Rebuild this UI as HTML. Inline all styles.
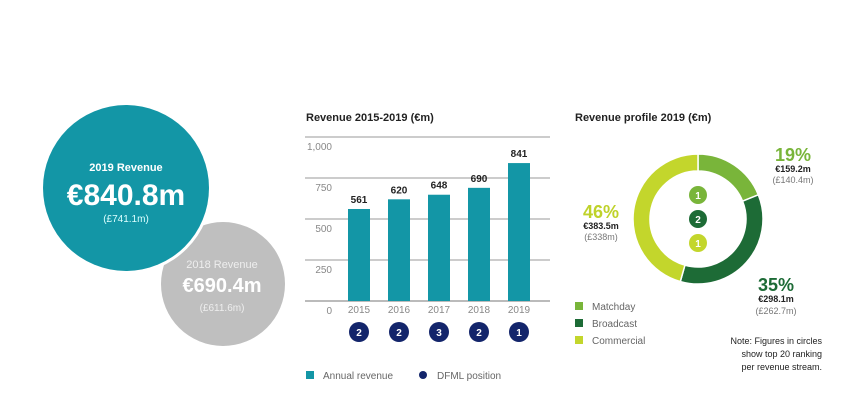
<!DOCTYPE html>
<html><head><meta charset="utf-8"><style>
body{margin:0;background:#fff;}
svg{display:block;font-family:"Liberation Sans",sans-serif;}
</style></head><body>
<svg id="c" width="867" height="412" viewBox="0 0 867 412">
<g>
<circle cx="223" cy="284" r="62" fill="#bfbfbf"/>
<circle cx="126" cy="188" r="86" fill="#fff"/>
<circle cx="126" cy="188" r="83" fill="#1396a6"/>
<text x="126" y="171" fill="#fff" font-size="11" font-weight="bold" text-anchor="middle">2019 Revenue</text>
<text x="126" y="205" fill="#fff" font-size="30" font-weight="bold" text-anchor="middle">€840.8m</text>
<text x="126" y="222" fill="#dff" font-size="10" text-anchor="middle">(£741.1m)</text>
<text x="222" y="268" fill="#eee" font-size="11" text-anchor="middle">2018 Revenue</text>
<text x="222" y="292" fill="#fff" font-size="20" font-weight="bold" text-anchor="middle">€690.4m</text>
<text x="222" y="311" fill="#eee" font-size="10" text-anchor="middle">(£611.6m)</text>
</g>
<text x="306" y="121" font-size="11" font-weight="bold" fill="#222">Revenue 2015-2019 (€m)</text>
<g id="bars"></g>
<text x="575" y="121" font-size="11" font-weight="bold" fill="#222">Revenue profile 2019 (€m)</text>
<g id="donut"></g>
<g>
<text x="793" y="161" font-size="18" font-weight="bold" fill="#79b53a" text-anchor="middle">19%</text>
<text x="793" y="172" font-size="9" font-weight="bold" fill="#222" text-anchor="middle">€159.2m</text>
<text x="793" y="183" font-size="9" fill="#777" text-anchor="middle">(£140.4m)</text>
<text x="601" y="218" font-size="18" font-weight="bold" fill="#bfd22a" text-anchor="middle">46%</text>
<text x="601" y="229" font-size="9" font-weight="bold" fill="#222" text-anchor="middle">€383.5m</text>
<text x="601" y="240" font-size="9" fill="#777" text-anchor="middle">(£338m)</text>
<text x="776" y="291" font-size="18" font-weight="bold" fill="#1d6b36" text-anchor="middle">35%</text>
<text x="776" y="302" font-size="9" font-weight="bold" fill="#222" text-anchor="middle">€298.1m</text>
<text x="776" y="314" font-size="9" fill="#777" text-anchor="middle">(£262.7m)</text>
</g>
<g>
<rect x="575" y="302" width="8" height="8" fill="#79b53a"/>
<text x="592" y="310" font-size="10" fill="#666">Matchday</text>
<rect x="575" y="319" width="8" height="8" fill="#1d6b36"/>
<text x="592" y="327" font-size="10" fill="#666">Broadcast</text>
<rect x="575" y="336" width="8" height="8" fill="#c3d62c"/>
<text x="592" y="344" font-size="10" fill="#666">Commercial</text>
</g>
<g font-size="9" fill="#222" text-anchor="end">
<text x="822" y="344">Note: Figures in circles</text>
<text x="822" y="357">show top 20 ranking</text>
<text x="822" y="370">per revenue stream.</text>
</g>
<g>
<rect x="306" y="371" width="8" height="8" fill="#1396a6"/>
<text x="323" y="379" font-size="10" fill="#666">Annual revenue</text>
<circle cx="423" cy="375" r="4" fill="#13256b"/>
<text x="437" y="379" font-size="10" fill="#666">DFML position</text>
</g>
</svg>
<script>
const years = ["2015","2016","2017","2018","2019"];
const revenue = [561, 620, 648, 690, 841];
const positions = [2, 2, 3, 2, 1];
const yTicks = [0, 250, 500, 750, 1000];
const yTickLabels = ["0","250","500","750","1,000"];
const segNames = ["matchday","broadcast","commercial"];
const segValues = [159.2, 298.1, 383.5];
const segRanks = [1, 2, 1];

const NS="http://www.w3.org/2000/svg";
function mk(tag, attrs, parent){const e=document.createElementNS(NS,tag);for(const k in attrs)e.setAttribute(k,attrs[k]);parent.appendChild(e);return e;}
const y = v => 301 - v/250*41;
const x = i => 359 + i*40;
const bars=document.getElementById('bars');
yTicks.forEach((t,i)=>{
  const l=mk('line',{x1:305,x2:550,y1:y(t),y2:y(t),stroke:t===0?'#777':'#999','stroke-width':1},bars);
  
  
  const tx=mk('text',{x:332,y:y(t)+13,'font-size':10,fill:'#888','text-anchor':'end'},bars);
  tx.textContent=yTickLabels[i];
  
  
});
years.forEach((yr,i)=>{
  const r=mk('rect',{x:x(i)-11,y:y(revenue[i]),width:22,height:301-y(revenue[i]),fill:'#1396a6'},bars);
  
  
  const v=mk('text',{x:x(i),y:y(revenue[i])-6,'font-size':10,'font-weight':'bold',fill:'#222','text-anchor':'middle'},bars);
  v.textContent=revenue[i];
  
  
  const yl=mk('text',{x:x(i),y:313,'font-size':10,fill:'#888','text-anchor':'middle'},bars);
  yl.textContent=yr;
  
  
  const c=mk('circle',{cx:x(i),cy:332,r:10,fill:'#13256b'},bars);
  
  
  const ct=mk('text',{x:x(i),y:336,'font-size':10,'font-weight':'bold',fill:'#fff','text-anchor':'middle'},bars);
  ct.textContent=positions[i];
  
  
});
const donut=document.getElementById('donut');
const cx=698, cy=219, R=65, r0=48;
const colors=["#79b53a","#1d6b36","#c3d62c"];
const total=segValues.reduce((a,b)=>a+b,0);
let a0=-Math.PI/2;
segValues.forEach((v,i)=>{
  const a1=a0+v/total*2*Math.PI;
  const lg=(a1-a0)>Math.PI?1:0;
  const p=(rr,a)=>[cx+rr*Math.cos(a),cy+rr*Math.sin(a)];
  const [x1,y1]=p(R,a0),[x2,y2]=p(R,a1),[x3,y3]=p(r0,a1),[x4,y4]=p(r0,a0);
  const d=`M${x1},${y1}A${R},${R} 0 ${lg} 1 ${x2},${y2}L${x3},${y3}A${r0},${r0} 0 ${lg} 0 ${x4},${y4}Z`;
  const s=mk('path',{d:d,fill:colors[i],stroke:'#fff','stroke-width':1.5},donut);
  
  
  a0=a1;
});
const rankColors=["#79b53a","#1d6b36","#c3d62c"];
[0,2,1].forEach((si,k)=>{}); 
segRanks.forEach((rk,i)=>{
  const order=[0,1,2][i];
  const cyy=[195,219,243][order];
  const c=mk('circle',{cx:cx,cy:cyy,r:9,fill:rankColors[i]},donut);
  
  
  const t=mk('text',{x:cx,y:cyy+4,'font-size':10,'font-weight':'bold',fill:'#fff','text-anchor':'middle'},donut);
  t.textContent=rk;
  
  
});
</script>
</body></html>
